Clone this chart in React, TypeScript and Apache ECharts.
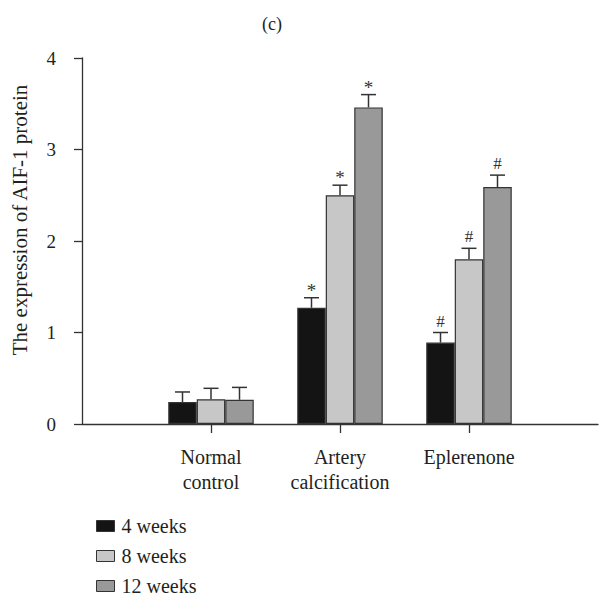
import React, { useEffect, useRef } from "react";
import * as echarts from "echarts";

const categories = ["", "Normal\ncontrol", "Artery\ncalcification", "Eplerenone", ""];
const seriesNames = ["4 weeks", "8 weeks", "12 weeks"];
const weeks4 = [null, 0.24, 1.27, 0.89, null];
const weeks4Err = [null, 0.35, 1.38, 1.0, null];
const weeks4Mark = ["", "", "*", "#", ""];
const weeks8 = [null, 0.27, 2.5, 1.8, null];
const weeks8Err = [null, 0.39, 2.61, 1.92, null];
const weeks8Mark = ["", "", "*", "#", ""];
const weeks12 = [null, 0.265, 3.46, 2.59, null];
const weeks12Err = [null, 0.4, 3.6, 2.72, null];
const weeks12Mark = ["", "", "*", "#", ""];
const yTicks = [0, 1, 2, 3, 4];

const FONT = "'Liberation Serif', 'Times New Roman', serif";
const TEXT = "#231f20";
const colors = ["#141414", "#c6c7c6", "#999999"];
const BAR_W = 28.5;

export default function App() {
  const ref = useRef<HTMLDivElement>(null);
  useEffect(() => {
    if (!ref.current) return;
    const chart = echarts.init(ref.current, undefined, { renderer: "svg" });
    const values = [weeks4, weeks8, weeks12];
    const errs = [weeks4Err, weeks8Err, weeks12Err];
    const marks = [weeks4Mark, weeks8Mark, weeks12Mark];

    const barSeries = seriesNames.map((name, i) => ({
      name,
      type: "bar",
      data: values[i],
      barWidth: BAR_W,
      barGap: "0%",
      itemStyle: { color: colors[i], borderColor: "#333", borderWidth: 1.2 },
      z: 2,
    }));

    const errSeries = seriesNames.map((name, i) => ({
      type: "custom",
      name: name + " err",
      z: 3,
      data: values[i]
        .map((v, c) => (v == null ? null : [c, v, errs[i][c] as number, c]))
        .filter((d) => d != null),
      renderItem: (params: any, api: any) => {
        const c = api.value(0);
        const v = api.value(1);
        const e = api.value(2);
        const mark = marks[i][api.value(3)];
        const base = api.coord([c, v]);
        const top = api.coord([c, e]);
        const x = base[0] + (i - 1) * BAR_W;
        const children: any[] = [
          { type: "line", shape: { x1: x, y1: base[1], x2: x, y2: top[1] }, style: { stroke: "#333", lineWidth: 1.5 } },
          { type: "line", shape: { x1: x - 7.5, y1: top[1], x2: x + 7.5, y2: top[1] }, style: { stroke: "#333", lineWidth: 1.5 } },
        ];
        if (mark) {
          children.push({
            type: "text",
            x: x,
            y: mark === "*" ? top[1] + 2 : top[1] - 3,
            style: {
              text: mark,
              textAlign: "center",
              textVerticalAlign: "bottom",
              fontFamily: FONT,
              fontSize: mark === "*" ? 19 : 17,
              fill: "#333",
            },
          });
        }
        return { type: "group", children };
      },
    }));

    chart.setOption({
      animation: false,
      textStyle: { fontFamily: FONT, color: TEXT },
      title: {
        text: "(c)",
        left: 267,
        top: 10,
        textAlign: "center",
        textStyle: { fontFamily: FONT, fontSize: 18, fontWeight: "normal", color: TEXT },
      },
      graphic: [
        {
          type: "text",
          x: 20,
          y: 220,
          rotation: Math.PI / 2,
          style: {
            text: "The expression of AIF-1 protein",
            textAlign: "center",
            textVerticalAlign: "middle",
            fontFamily: FONT,
            fontSize: 21,
            fill: TEXT,
          },
        },
      ],
      legend: {
        orient: "vertical",
        left: 96,
        bottom: 2,
        padding: 0,
        itemWidth: 18,
        itemHeight: 11,
        itemGap: 10,
        icon: "rect",
        data: seriesNames,
        itemStyle: { borderColor: "#333", borderWidth: 1 },
        textStyle: { fontFamily: FONT, fontSize: 20, color: TEXT, lineHeight: 18, padding: [0, 0, 0, 2] },
      },
      grid: { left: 82, right: 2, top: 58, height: 366, containLabel: false },
      xAxis: {
        type: "category",
        data: categories,
        boundaryGap: false,
        axisLine: { lineStyle: { color: "#333", width: 1.3 } },
        axisTick: {
          show: true,
          length: 9,
          interval: (idx: number) => idx > 0 && idx < categories.length - 1,
          lineStyle: { color: "#333", width: 1.3 },
        },
        axisLabel: {
          interval: 0,
          margin: 20,
          fontFamily: FONT,
          fontSize: 20,
          lineHeight: 25,
          color: TEXT,
        },
      },
      yAxis: {
        type: "value",
        min: yTicks[0],
        max: yTicks[yTicks.length - 1],
        interval: 1,
        splitLine: { show: false },
        axisLine: { show: true, lineStyle: { color: "#333", width: 1.3 } },
        axisTick: { show: true, length: 8, lineStyle: { color: "#333", width: 1.3 } },
        axisLabel: { margin: 26, fontFamily: FONT, fontSize: 19, color: TEXT },
      },
      series: [...barSeries, ...errSeries],
    });
    return () => chart.dispose();
  }, []);
  return <div ref={ref} style={{ width: 601, height: 598, position: "absolute", left: 0, top: 0 }} />;
}
